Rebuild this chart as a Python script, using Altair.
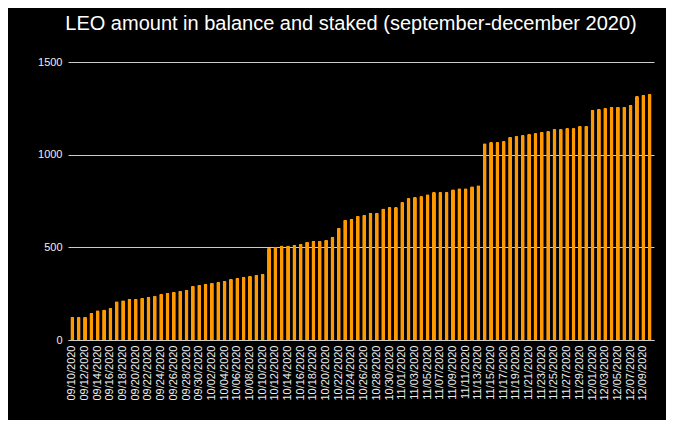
import altair as alt
import pandas as pd

# Categories: one bar per day, 09/10/2020 .. 12/10/2020
dates = [d.strftime("%m/%d/%Y") for d in pd.date_range("2020-09-10", "2020-12-10", freq="D")]

leo_part1 = [126, 126, 126, 147, 160, 165, 174, 209, 214, 223, 223, 228, 233, 239, 250, 255, 260]
leo_part2 = [266, 271, 293, 298, 304, 309, 314, 320, 330, 336, 341, 347, 352, 357, 498, 503]
leo_part3 = [510, 510, 514, 519, 530, 535, 535, 541, 557, 605, 649, 654, 670, 676, 686, 686, 710]
leo_part4 = [717, 717, 744, 766, 771, 777, 787, 798, 798, 798, 814, 819, 819, 830, 835, 1062]
leo_part5 = [1068, 1068, 1074, 1096, 1101, 1106, 1112, 1117, 1123, 1128, 1139, 1139, 1144, 1144,
             1155, 1155, 1242, 1247, 1252, 1258, 1258, 1258, 1269, 1317, 1323, 1328]
leo = leo_part1 + leo_part2 + leo_part3 + leo_part4 + leo_part5

shown_labels = dates[::2]
y_ticks = [0, 500, 1000, 1500]

df = pd.DataFrame({"date": dates, "leo": leo})

FONT = "Liberation Sans"

chart = alt.Chart(df).mark_bar(
    color="#FF9900", cornerRadiusTopLeft=1.5, cornerRadiusTopRight=1.5
).encode(
    x=alt.X(
        "date:N", sort=dates, title=None,
        scale=alt.Scale(paddingInner=0.37, paddingOuter=0.37),
        axis=alt.Axis(
            values=shown_labels, labelAngle=270, labelFont=FONT, labelFontSize=11,
            labelColor="#eeeeee", ticks=False, domain=True, domainColor="#cccccc",
            labelPadding=5, grid=False, labelOverlap=False,
        ),
    ),
    y=alt.Y(
        "leo:Q", title=None,
        scale=alt.Scale(domain=[0, 1500], nice=False),
        axis=alt.Axis(
            values=y_ticks, format="d", grid=True, gridColor="#cccccc", ticks=False,
            domain=False, labelColor="#eeeeee", labelFont=FONT, labelFontSize=11,
            labelPadding=6,
        ),
    ),
).properties(
    width=586,
    height=278,
    title=alt.TitleParams(
        "LEO amount in balance and staked (september-december 2020)",
        font=FONT, fontSize=20, fontWeight="normal", color="#ffffff",
        anchor="middle", offset=22, dx=-10,
    ),
    background="#000000",
    padding={"left": 60, "top": 54, "right": 12, "bottom": 80},
    autosize=alt.AutoSizeParams(type="none"),
).configure_view(stroke=None)

chart.save("out.html", embed_options={"renderer": "svg", "actions": False})
